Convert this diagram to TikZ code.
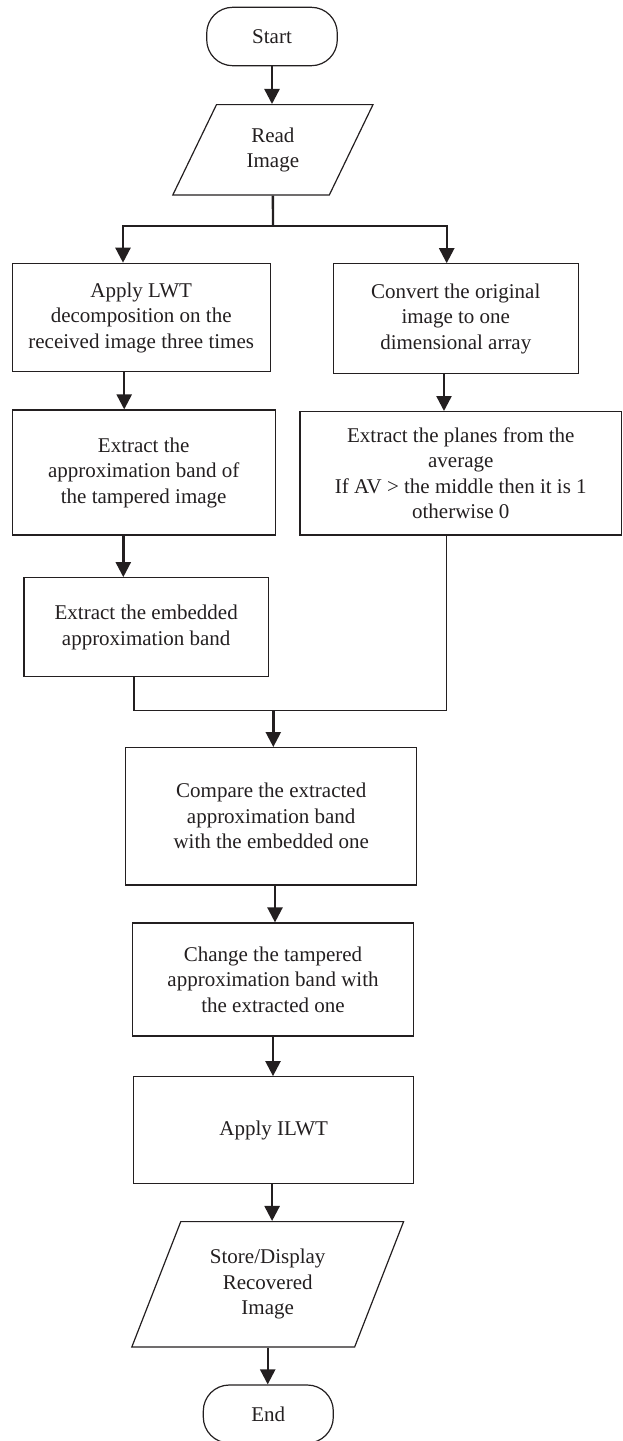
\documentclass[tikz,border=0pt]{standalone}
\usepackage{fontspec}
\setmainfont{Liberation Serif}
\usetikzlibrary{arrows.meta,shapes.geometric}
\definecolor{ink}{RGB}{35,31,32}

\begin{document}
\begin{tikzpicture}[x=0.5pt, y=-0.5pt,
    every node/.style={font=\fontsize{10.5}{12.75}\selectfont, text=ink},
    box/.style={draw=ink, line width=0.6pt, rectangle, align=center, inner sep=2pt},
    term/.style={box, rounded corners=13pt},
    io/.style={draw=ink, line width=0.6pt, trapezium, trapezium left angle=66,
      trapezium right angle=114, trapezium stretches=true, align=center, inner sep=2pt},
    flow/.style={draw=ink, line width=1.2pt, -{Triangle[length=7.5pt, width=7.5pt]}},
    link/.style={draw=ink, line width=0.6pt}]
  \useasboundingbox (0,0) rectangle (622,1441);

  % top of the chart
  \node[term, minimum width=65.3pt, minimum height=29.2pt] (start) at (272,36.5) {Start};
  \node[io, minimum width=100.3pt, minimum height=45.2pt] (read) at (272.9,149.8) {Read\\Image};
  \coordinate (split) at (273,226);

  % two branches
  \node[box, minimum width=128.9pt, minimum height=54.2pt] (lwt) at (141.2,317.5)
    {Apply LWT\\decomposition on the\\received image three times};
  \node[box, minimum width=122.5pt, minimum height=54.7pt] (conv) at (455.8,318.5)
    {Convert the original\\image to one\\dimensional array};
  \node[box, minimum width=131.4pt, minimum height=62.5pt] (approx) at (143.7,472.5)
    {Extract the\\approximation band of\\the tampered image};
  \node[box, minimum width=160.8pt, minimum height=61.7pt] (planes) at (460.8,473.3)
    {Extract the planes from the\\average\\If AV > the middle then it is 1\\otherwise 0};
  \node[box, minimum width=122.2pt, minimum height=49.5pt] (embed) at (146.2,627.2)
    {Extract the embedded\\approximation band};
  \coordinate (merge) at (273.3,710.7);

  % main line after the merge
  \node[box, minimum width=145.5pt, minimum height=68.7pt] (compare) at (271.2,816.3)
    {Compare the extracted\\approximation band\\with the embedded one};
  \node[box, minimum width=140.7pt, minimum height=56.5pt] (change) at (273,979.5)
    {Change the tampered\\approximation band with\\the extracted one};
  \node[box, minimum width=140pt, minimum height=53.5pt] (ilwt) at (273.7,1130.2) {Apply ILWT};
  \node[io, minimum width=136.7pt, minimum height=62.7pt] (store) at (267.7,1284.3)
    {Store/Display\\Recovered\\Image};
  \node[term, minimum width=65pt, minimum height=29pt] (end) at (268.3,1414) {End};

  % connectors
  \draw[flow] (start.south) -- (start.south |- read.north);
  \draw[link, line width=1.2pt] (read.south) -- (split);
  \draw[flow] (split) -| ([xshift=-9.1pt]lwt.north);
  \draw[flow] (split) -| ([xshift=-4.55pt]conv.north);
  \draw[flow] ([xshift=-8.5pt]lwt.south) -- ([xshift=-8.5pt]lwt.south |- approx.north);
  \draw[flow] ([xshift=-5.9pt]conv.south) -- ([xshift=-5.9pt]conv.south |- planes.north);
  \draw[flow] ([xshift=-10.2pt]approx.south) -- ([xshift=-10.2pt]approx.south |- embed.north);
  \draw[link] ([xshift=-6.1pt]embed.south) |- (merge);
  \draw[link] ([xshift=-7pt]planes.south) |- (merge);
  \draw[flow] (merge) -- (merge |- compare.north);
  \draw[flow] ([xshift=1.9pt]compare.south) -- ([xshift=1.9pt]compare.south |- change.north);
  \draw[flow] (change.south) -- (change.south |- ilwt.north);
  \draw[flow] ([xshift=-0.8pt]ilwt.south) -- ([xshift=-0.8pt]ilwt.south |- store.north);
  \draw[flow] (store.south) -- (store.south |- end.north);
\end{tikzpicture}
\end{document}
